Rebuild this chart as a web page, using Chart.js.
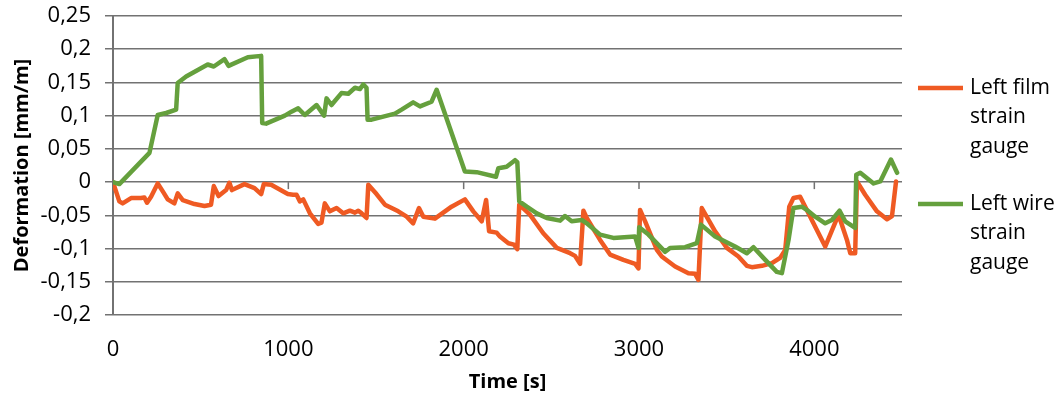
<!DOCTYPE html>
<html>
<head>
<meta charset="utf-8">
<script src="https://cdn.jsdelivr.net/npm/chart.js@4/dist/chart.umd.min.js"></script>
<style>
  body { margin: 0; background: #fff; }
  #wrap { width: 1060px; height: 394px; }
</style>
</head>
<body>
<div id="wrap"><canvas id="chart" width="1060" height="394"></canvas></div>
<script>
// data
const filmTime = [0, 36, 55, 103, 160, 179, 194, 217, 255, 284, 312, 350, 369, 398, 465, 522, 559, 575, 602, 645,
  664, 678, 750, 807, 845, 860, 902, 997, 1027, 1047, 1066, 1085, 1123, 1170, 1189, 1208, 1237, 1275, 1313, 1351,
  1380, 1399, 1418, 1446, 1456, 1503, 1551, 1627, 1675, 1712, 1745, 1770, 1836, 1931, 2007, 2055, 2103, 2128, 2145,
  2188, 2207, 2255, 2287, 2306, 2317, 2378, 2454, 2531, 2607, 2635, 2664, 2683, 2702, 2778, 2835, 2911, 2978, 2997,
  3006, 3035, 3102, 3130, 3206, 3282, 3320, 3339, 3358, 3434, 3501, 3567, 3615, 3644, 3701, 3758, 3805, 3834, 3857,
  3881, 3919, 3948, 3995, 4062, 4138, 4186, 4205, 4233, 4243, 4290, 4357, 4414, 4443, 4466];
const filmValues = [0, -0.029, -0.032, -0.024, -0.024, -0.023, -0.031, -0.022, -0.002, -0.014, -0.026, -0.032, -0.017, -0.027, -0.033, -0.036, -0.034, -0.006, -0.021, -0.012,
  -0.001, -0.012, -0.003, -0.009, -0.018, -0.003, -0.004, -0.018, -0.019, -0.019, -0.029, -0.026, -0.047, -0.063, -0.061, -0.032, -0.044, -0.039, -0.047, -0.043,
  -0.046, -0.043, -0.047, -0.054, -0.004, -0.018, -0.034, -0.044, -0.052, -0.062, -0.039, -0.052, -0.055, -0.037, -0.026, -0.044, -0.059, -0.027, -0.074,
  -0.076, -0.082, -0.092, -0.094, -0.101, -0.034, -0.049, -0.077, -0.099, -0.107, -0.111, -0.123, -0.043, -0.054, -0.087, -0.109, -0.117, -0.123, -0.130,
  -0.042, -0.059, -0.102, -0.112, -0.127, -0.137, -0.138, -0.147, -0.039, -0.074, -0.099, -0.112, -0.126, -0.128, -0.126, -0.122, -0.114, -0.102, -0.037,
  -0.024, -0.022, -0.037, -0.062, -0.097, -0.049, -0.087, -0.107, -0.107, 0.001, -0.019, -0.044, -0.056, -0.051, 0.001];

const wireTime = [0, 36, 208, 255, 303, 360, 369, 417, 540, 575, 636, 659, 769, 845, 851, 873, 980, 1018, 1056, 1094,
  1161, 1204, 1218, 1246, 1303, 1342, 1380, 1408, 1427, 1446, 1452, 1475, 1608, 1646, 1712, 1751, 1817, 1846, 2007, 2074,
  2184, 2198, 2245, 2293, 2306, 2317, 2360, 2417, 2474, 2550, 2578, 2616, 2673, 2702, 2778, 2854, 2978, 2997, 3001, 3054,
  3149, 3177, 3263, 3330, 3353, 3434, 3548, 3615, 3653, 3720, 3786, 3815, 3853, 3881, 3929, 3958, 4005, 4062, 4100, 4144,
  4176, 4233, 4239, 4262, 4338, 4376, 4437, 4472];
const wireValues = [0, -0.003, 0.044, 0.101, 0.104, 0.109, 0.149, 0.159, 0.177, 0.174, 0.185, 0.175, 0.188, 0.190, 0.089, 0.088, 0.100, 0.106, 0.111, 0.101,
  0.116, 0.100, 0.126, 0.116, 0.134, 0.133, 0.142, 0.140, 0.147, 0.142, 0.094, 0.094, 0.103, 0.109, 0.120, 0.114, 0.121, 0.139, 0.016, 0.015,
  0.008, 0.021, 0.023, 0.033, 0.030, -0.029, -0.037, -0.047, -0.054, -0.058, -0.051, -0.059, -0.057, -0.062, -0.079, -0.084, -0.082, -0.099, -0.068, -0.079,
  -0.105, -0.099, -0.098, -0.092, -0.064, -0.082, -0.097, -0.107, -0.098, -0.117, -0.135, -0.137, -0.087, -0.039, -0.037, -0.042, -0.052, -0.062, -0.057, -0.043,
  -0.059, -0.069, 0.011, 0.014, -0.002, 0.001, 0.034, 0.014];

const seriesNames = [["Left film", "strain", "gauge"], ["Left wire", "strain", "gauge"]];
const xTicks = [0, 1000, 2000, 3000, 4000];
const yTicks = [-0.2, -0.15, -0.1, -0.05, 0, 0.05, 0.1, 0.15, 0.2, 0.25];

const orange = "#ef5a23";
const green = "#65a03d";
const gridColor = "#727272";
const font = "'Open Sans', sans-serif";

function toPoints(xs, ys) {
  return xs.map((t, i) => ({ x: t, y: ys[i] }));
}

// x tick marks on the zero line + legend at the right
const extras = {
  id: "extras",
  beforeDatasetsDraw(chart) {
    const ctx = chart.ctx;
    const x = chart.scales.x;
    const y0 = chart.scales.y.getPixelForValue(0);
    ctx.save();
    ctx.strokeStyle = gridColor;
    ctx.lineWidth = 1.5;
    for (let i = 1; i < xTicks.length; i++) {
      const px = x.getPixelForValue(xTicks[i]);
      ctx.beginPath();
      ctx.moveTo(px, y0);
      ctx.lineTo(px, y0 + 7);
      ctx.stroke();
    }
    ctx.restore();
  },
  afterDraw(chart) {
    const ctx = chart.ctx;
    const left = chart.chartArea.right + 16;
    const tops = [88, 204];
    ctx.save();
    chart.data.datasets.forEach((ds, i) => {
      ctx.strokeStyle = ds.borderColor;
      ctx.lineWidth = 4.5;
      ctx.beginPath();
      ctx.moveTo(left, tops[i]);
      ctx.lineTo(left + 45, tops[i]);
      ctx.stroke();
      ctx.fillStyle = "#000";
      ctx.font = "21px " + font;
      ctx.textBaseline = "middle";
      seriesNames[i].forEach((line, j) => {
        ctx.fillText(line, left + 52, tops[i] + j * 29.5);
      });
    });
    ctx.restore();
  }
};

new Chart(document.getElementById("chart"), {
  type: "line",
  data: {
    datasets: [
      {
        label: seriesNames[0].join(" "),
        data: toPoints(filmTime, filmValues),
        borderColor: orange,
        borderWidth: 4.5,
        pointRadius: 0,
        tension: 0,
        borderJoinStyle: "round",
        borderCapStyle: "round",
        order: 2
      },
      {
        label: seriesNames[1].join(" "),
        data: toPoints(wireTime, wireValues),
        borderColor: green,
        borderWidth: 4.5,
        pointRadius: 0,
        tension: 0,
        borderJoinStyle: "round",
        borderCapStyle: "round",
        order: 1
      }
    ]
  },
  options: {
    responsive: false,
    animation: false,
    layout: { padding: { top: 16, right: 158, bottom: 0, left: 0 } },
    plugins: {
      legend: { display: false },
      tooltip: { enabled: false }
    },
    scales: {
      x: {
        type: "linear",
        min: 0,
        max: 4500,
        grid: { display: false },
        border: { display: false },
        afterBuildTicks: s => { s.ticks = xTicks.map(v => ({ value: v })); },
        ticks: {
          autoSkip: false,
          padding: 14,
          color: "#000",
          font: { family: font, size: 22 },
          maxRotation: 0,
          callback: v => String(Math.round(v))
        },
        title: {
          display: true,
          text: "Time [s]",
          color: "#000",
          font: { family: font, size: 20, weight: "bold" },
          padding: { top: 0, bottom: 0 }
        },
        afterFit: s => { s.height = 79; }
      },
      y: {
        min: -0.2,
        max: 0.25,
        grid: { color: gridColor, lineWidth: 1.5, tickLength: 8 },
        border: { display: true, color: gridColor, width: 2 },
        afterBuildTicks: s => { s.ticks = yTicks.map(v => ({ value: v })); },
        ticks: {
          autoSkip: false,
          padding: 14,
          color: "#000",
          font: { family: font, size: 22 },
          callback: v => String(Math.round(v * 100) / 100).replace(".", ",")
        },
        title: {
          display: true,
          text: "Deformation [mm/m]",
          color: "#000",
          font: { family: font, size: 20, weight: "bold" },
          padding: { top: 10, bottom: 4 }
        },
        afterFit: s => {
          s.width = 113;
          s.paddingTop = 0;
          s.paddingBottom = 0;
        }
      }
    }
  },
  plugins: [extras]
});
</script>
</body>
</html>
